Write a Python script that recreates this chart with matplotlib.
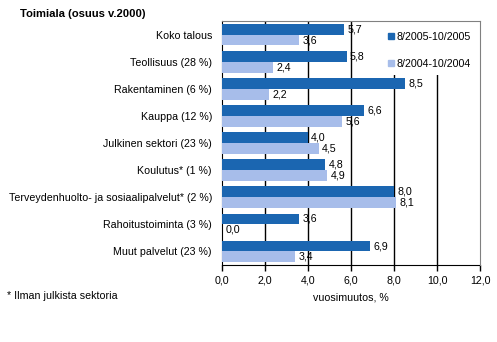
import matplotlib.pyplot as plt
import numpy as np
from matplotlib.lines import Line2D
from matplotlib.patches import Rectangle

plt.rcParams['font.family'] = ['Liberation Sans', 'DejaVu Sans']

toimialat = ['Koko talous', 'Teollisuus (28 %)', 'Rakentaminen (6 %)', 'Kauppa (12 %)',
             'Julkinen sektori (23 %)', 'Koulutus* (1 %)',
             'Terveydenhuolto- ja sosiaalipalvelut* (2 %)', 'Rahoitustoiminta (3 %)',
             'Muut palvelut (23 %)']
v2005 = [5.7, 5.8, 8.5, 6.6, 4.0, 4.8, 8.0, 3.6, 6.9]
v2004 = [3.6, 2.4, 2.2, 5.6, 4.5, 4.9, 8.1, 0.0, 3.4]
sarjat = ['8/2005-10/2005', '8/2004-10/2004']
xticks = [0, 2, 4, 6, 8, 10, 12]

tumma = '#1B66B1'
vaalea = '#A7BDEA'
fs = 7.7

fig = plt.figure(figsize=(4.97, 3.42), dpi=100)
ax = fig.add_axes([0.446, 0.225, 0.52, 0.7135])

y = np.arange(len(toimialat))
h = 0.4
ax.barh(y - h / 2, v2005, height=h, color=tumma, zorder=3)
ax.barh(y + h / 2, v2004, height=h, color=vaalea, zorder=3)

for yy, v in zip(y - h / 2, v2005):
    ax.annotate(f'{v:.1f}'.replace('.', ','), (v, yy), xytext=(2.5, 0),
                textcoords='offset points', va='center', ha='left', fontsize=fs, zorder=5)
for yy, v in zip(y + h / 2, v2004):
    ax.annotate(f'{v:.1f}'.replace('.', ','), (v, yy), xytext=(2.5, 0),
                textcoords='offset points', va='center', ha='left', fontsize=fs, zorder=5)

# vertical gridlines (not at 0 or 12)
for t in xticks[1:-1]:
    ax.axvline(t, color='black', linewidth=1, zorder=1)

ax.set_xlim(0, 12)
ax.set_ylim(len(toimialat) - 0.5, -0.5)
ax.set_xticks(xticks)
ax.set_xticklabels([f'{t:.1f}'.replace('.', ',') for t in xticks], fontsize=fs)
ax.set_yticks(y)
ax.set_yticklabels(toimialat, fontsize=fs)
ax.tick_params(axis='y', length=0, pad=7)
ax.tick_params(axis='x', direction='out', length=4, width=1, pad=3.5)

for s in ['top', 'right']:
    ax.spines[s].set_color('#808080')
    ax.spines[s].set_zorder(4)
for s in ['left', 'bottom']:
    ax.spines[s].set_color('black')

ax.set_xlabel('vuosimuutos, %', fontsize=fs, labelpad=5)

# legend area covers gridlines
ax.add_patch(Rectangle((0.632, 0.779), 0.366, 0.219, transform=ax.transAxes,
                       facecolor='white', edgecolor='none', zorder=2))
handles = [Line2D([], [], marker='s', linestyle='none', markersize=5, color=tumma),
           Line2D([], [], marker='s', linestyle='none', markersize=5, color=vaalea)]
ax.legend(handles, sarjat, loc='upper left', bbox_to_anchor=(0.63, 0.968), frameon=False,
          fontsize=fs, handlelength=0.6, handletextpad=0.2, labelspacing=1.55,
          borderaxespad=0, borderpad=0.3)

fig.text(20 / 497, 1 - 14 / 342, 'Toimiala (osuus v.2000)', fontsize=8.1, fontweight='bold',
         va='center', ha='left')
fig.text(7 / 497, 1 - 296 / 342, '* Ilman julkista sektoria', fontsize=fs, va='center', ha='left')

fig.savefig('out.png', dpi=100)
